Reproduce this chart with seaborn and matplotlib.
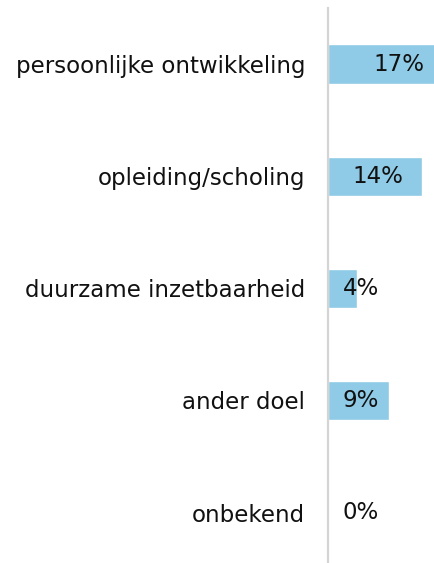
import matplotlib
matplotlib.use("Agg")
import matplotlib.pyplot as plt
import pandas as pd
import seaborn as sns

# Data
categories = ["persoonlijke ontwikkeling", "opleiding/scholing",
              "duurzame inzetbaarheid", "ander doel", "onbekend"]
values = [17, 13.9, 4.3, 9, 0]
labels = ["17%", "14%", "4%", "9%", "0%"]

df = pd.DataFrame({"doel": categories, "pct": values})

sns.set_style("white")
plt.rcParams["font.family"] = ["DejaVu Sans"]

fig = plt.figure(figsize=(4.34, 5.63), dpi=100)
ax = fig.add_axes([328 / 434, 0, 106 / 434, 1 - 8 / 563])

sns.barplot(data=df, x="pct", y="doel", orient="h", color="#8fcae6",
            width=0.35, saturation=1, ax=ax)

ax.set_xlim(0, 106 / 6.75)
ax.set_ylim(4.45, -0.5)

# value labels: right-aligned inside the bar, unless too short, then left at a fixed spot
fs = 16.5
for i, (v, lab) in enumerate(zip(values, labels)):
    right = v - 2.7
    if right - len(lab) * 2.5 > 2.2:
        ax.text(right, i, lab, ha="right", va="center", fontsize=fs,
                color="#111111", clip_on=False)
    else:
        ax.text(2.2, i, lab, ha="left", va="center", fontsize=fs,
                color="#111111", clip_on=False)

ax.set_xlabel("")
ax.set_ylabel("")
ax.set_xticks([])
ax.tick_params(axis="y", length=0, pad=16.5, labelsize=fs, labelcolor="#111111")
for s in ["top", "right", "bottom"]:
    ax.spines[s].set_visible(False)
ax.spines["left"].set_color("#d4d4d4")
ax.spines["left"].set_linewidth(1.6)

fig.savefig("out.png", dpi=100)
